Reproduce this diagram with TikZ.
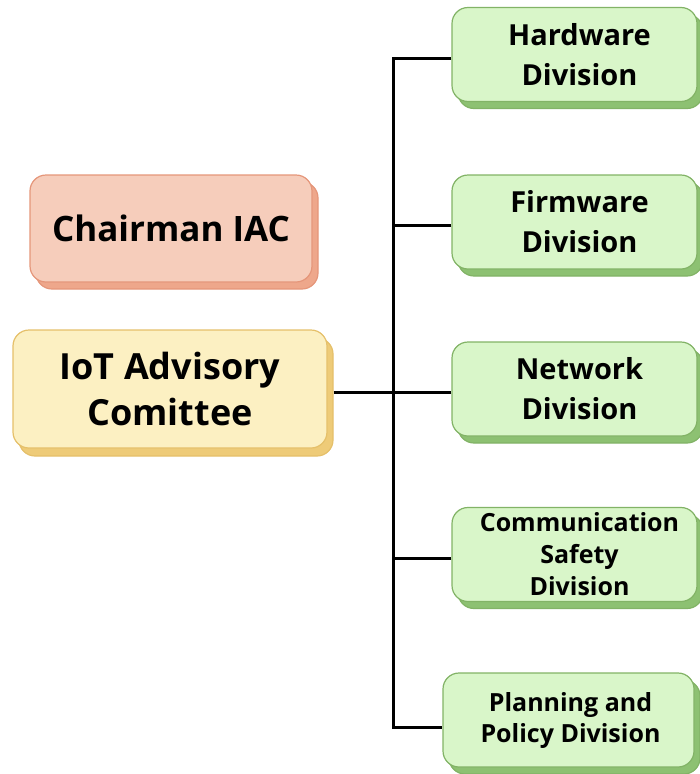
\documentclass[tikz,border=0pt]{standalone}
\usepackage{fontspec}
\setmainfont{Open Sans}
\usetikzlibrary{shadows}
\definecolor{redfill}{HTML}{F6CDBB}
\definecolor{redline}{HTML}{E5967A}
\definecolor{redshade}{HTML}{EEA78B}
\definecolor{yelfill}{HTML}{FCF0C2}
\definecolor{yelline}{HTML}{E5C06A}
\definecolor{yelshade}{HTML}{EECB78}
\definecolor{grnfill}{HTML}{D9F6C9}
\definecolor{grnline}{HTML}{82B366}
\definecolor{grnshade}{HTML}{8DC172}
\tikzset{
  box/.style={rounded corners=16pt, line width=1.2pt, align=center,
    inner sep=0pt, font=\bfseries},
  redbox/.style={box, fill=redfill, draw=redline,
    copy shadow={shadow xshift=6pt, shadow yshift=-7pt, fill=redshade, draw=redline}},
  yelbox/.style={box, fill=yelfill, draw=yelline,
    copy shadow={shadow xshift=6pt, shadow yshift=-8pt, fill=yelshade, draw=yelline}},
  grnbox/.style={box, fill=grnfill, draw=grnline, minimum width=245pt, minimum height=94pt,
    copy shadow={shadow xshift=6pt, shadow yshift=-7pt, fill=grnshade, draw=grnline}},
  link/.style={line width=3pt, black, line join=miter},
}
\begin{document}
\begin{tikzpicture}[x=1pt, y=-1pt]
\useasboundingbox (0,0) rectangle (700,774);
\node[redbox, minimum width=282pt, minimum height=107pt,
  font=\bfseries\fontsize{35}{40}\selectfont] (chair) at (171,228.5) {Chairman IAC};
\node[yelbox, minimum width=314pt, minimum height=118pt,
  font=\bfseries\fontsize{36}{46}\selectfont] (iot) at (170,389) {IoT Advisory\\Comittee};
\node[grnbox, font=\bfseries\fontsize{29}{40}\selectfont] (hw) at (574.5,54.5) {\hspace*{10pt}Hardware\\\hspace*{10pt}Division};
\node[grnbox, font=\bfseries\fontsize{29}{40}\selectfont] (fw) at (574.5,222) {\hspace*{10pt}Firmware\\\hspace*{10pt}Division};
\node[grnbox, font=\bfseries\fontsize{29}{40}\selectfont] (nw) at (574.5,389) {\hspace*{10pt}Network\\\hspace*{10pt}Division};
\node[grnbox, font=\bfseries\fontsize{25}{32}\selectfont] (cs) at (574.5,554.5) {\hspace*{10pt}Communication\\\hspace*{10pt}Safety\\\hspace*{10pt}Division};
\node[grnbox, minimum width=251pt, font=\bfseries\fontsize{25}{31}\selectfont] (pp) at (568.5,720) {\hspace*{4pt}Planning and\\\hspace*{4pt}Policy Division};
\coordinate (trunk) at (393,0);
\draw[link] ([yshift=-3.5pt]hw.west) -- ([yshift=-3.5pt]hw.west -| trunk)
  -- ([yshift=-7pt]pp.west -| trunk) -- ([yshift=-7pt]pp.west);
\draw[link] ([yshift=-3pt]fw.west) -- ([yshift=-3pt]fw.west -| trunk);
\draw[link] ([yshift=-3pt]nw.west) -- ([yshift=-3pt]nw.west -| trunk);
\draw[link] ([yshift=-3.5pt]cs.west) -- ([yshift=-3.5pt]cs.west -| trunk);
\draw[link] ([yshift=-3pt,xshift=6pt]iot.east) -- ([yshift=-3pt]iot.east -| trunk);
\end{tikzpicture}
\end{document}
